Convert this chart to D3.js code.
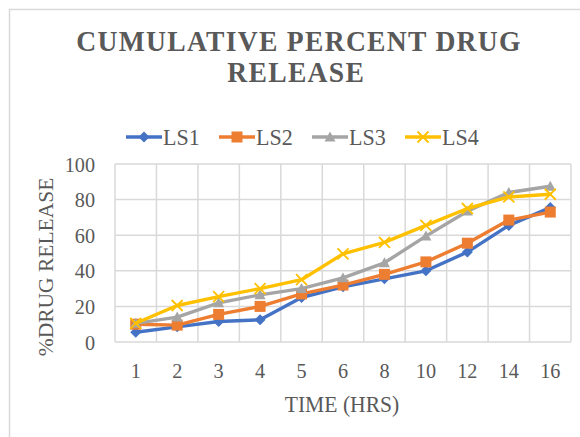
<!DOCTYPE html>
<html>
<head>
<meta charset="utf-8">
<script src="https://cdn.jsdelivr.net/npm/d3@7/dist/d3.min.js"></script>
<style>
  html, body { margin: 0; padding: 0; background: #fff; }
  svg { display: block; }
  text { font-family: "Liberation Serif", "Times New Roman", serif; fill: #595959; }
</style>
</head>
<body>
<svg id="chart" width="580" height="437"></svg>
<script>
// Sampling times (hours) shown as categories on the x axis
const hours = ["1", "2", "3", "4", "5", "6", "8", "10", "12", "14", "16"];

// Cumulative % drug release for each formulation
const ls1 = [5.5, 8.5, 11.5, 12.5, 25, 31, 35.5, 40, 50.5, 65.5, 75.5];
const ls2 = [10, 9.5, 15.5, 20, 27, 32, 38, 45, 55.5, 68.5, 73];
const ls3 = [10.5, 14, 22, 26.5, 30, 36, 44.5, 59.5, 73.5, 84, 87.5];
const ls4 = [10.5, 20.5, 25.5, 30, 35, 49.5, 56, 65.5, 75, 81.5, 83];

const yTicks = [0, 20, 40, 60, 80, 100];

const seriesNames = ["LS1", "LS2", "LS3", "LS4"];
const seriesValues = [ls1, ls2, ls3, ls4];
const seriesColors = ["#4472C4", "#ED7D31", "#A5A5A5", "#FFC000"];
const seriesMarkers = ["diamond", "square", "triangle", "cross"];

// Narrow (condensed) rendering of the serif text
const squeeze = "scale(0.92,1)";

const svg = d3.select("#chart");

// Outer chart frame
svg.append("rect")
  .attr("x", 9.5).attr("y", 9.5)
  .attr("width", 620).attr("height", 480)
  .attr("fill", "#fff")
  .attr("stroke", "#d9d9d9")
  .attr("stroke-width", 1.5);

const plot = { left: 115, right: 571, top: 164, bottom: 342 };

const x = d3.scaleBand().domain(hours).range([plot.left, plot.right]);
const y = d3.scaleLinear().domain([0, 100]).range([plot.bottom, plot.top]);

// Gridlines
const grid = svg.append("g").attr("stroke", "#d9d9d9").attr("stroke-width", 1.5);
grid.selectAll("line.h").data(yTicks).join("line")
  .attr("x1", plot.left).attr("x2", plot.right)
  .attr("y1", d => y(d)).attr("y2", d => y(d));
const vBounds = hours.map(h => x(h)).concat([plot.right]);
grid.selectAll("line.v").data(vBounds).join("line")
  .attr("x1", d => d).attr("x2", d => d)
  .attr("y1", plot.top).attr("y2", plot.bottom);

// Axes
const yAxis = svg.append("g")
  .attr("transform", `translate(${plot.left - 20},0)`)
  .call(d3.axisLeft(y).tickValues(yTicks).tickSize(0).tickPadding(0));
yAxis.select(".domain").remove();
yAxis.selectAll("text")
  .attr("font-size", 22).attr("font-family", "Liberation Serif").attr("fill", "#595959")
  .attr("transform", squeeze);

const xAxis = svg.append("g")
  .attr("transform", `translate(0,${plot.bottom + 20})`)
  .call(d3.axisBottom(x).tickSize(0).tickPadding(0));
xAxis.select(".domain").remove();
xAxis.selectAll("text")
  .attr("font-size", 22).attr("font-family", "Liberation Serif").attr("fill", "#595959")
  .attr("transform", squeeze);

// Axis titles
svg.append("text")
  .attr("transform", `translate(342,411.5) ${squeeze}`)
  .attr("text-anchor", "middle")
  .attr("font-size", 23.5)
  .text("TIME (HRS)");

svg.append("text")
  .attr("transform", "translate(53,267) rotate(-90)")
  .attr("text-anchor", "middle")
  .attr("font-size", 21.5)
  .text("%DRUG RELEASE");

// Title
const title = svg.append("g").attr("transform", `translate(299,0) ${squeeze}`)
  .append("text")
  .attr("text-anchor", "middle")
  .attr("font-weight", "bold")
  .attr("font-size", 30)
  .attr("letter-spacing", 1.4);
title.append("tspan").attr("x", 0).attr("y", 51).text("CUMULATIVE PERCENT DRUG");
title.append("tspan").attr("x", -3).attr("y", 82).text("RELEASE");

// Marker shapes
const markerSize = 11;
function markerPath(kind) {
  const s = markerSize / 2;
  if (kind === "diamond") return `M0,${-s}L${s},0L0,${s}L${-s},0Z`;
  if (kind === "square") return `M${-s},${-s}H${s}V${s}H${-s}Z`;
  if (kind === "triangle") return `M0,${-s}L${s},${s * 0.8}H${-s}Z`;
  return `M${-s},${-s}L${s},${s}M${s},${-s}L${-s},${s}`;
}
function drawMarker(g, kind, color) {
  const p = g.append("path").attr("d", markerPath(kind));
  if (kind === "cross") p.attr("fill", "none").attr("stroke", color).attr("stroke-width", 1.8);
  else p.attr("fill", color);
}

const line = d3.line()
  .x((d, i) => x(hours[i]) + x.bandwidth() / 2)
  .y(d => y(d));

seriesValues.forEach((vals, k) => {
  const g = svg.append("g");
  g.append("path")
    .attr("d", line(vals))
    .attr("fill", "none")
    .attr("stroke", seriesColors[k])
    .attr("stroke-width", 3.4)
    .attr("stroke-linejoin", "round")
    .attr("stroke-linecap", "round");
  vals.forEach((v, i) => {
    const m = g.append("g")
      .attr("transform", `translate(${x(hours[i]) + x.bandwidth() / 2},${y(v)})`);
    drawMarker(m, seriesMarkers[k], seriesColors[k]);
  });
});

// Legend
const legendX = [126, 219, 312, 405];
const legend = svg.append("g");
seriesNames.forEach((name, k) => {
  const g = legend.append("g").attr("transform", `translate(${legendX[k]},137)`);
  g.append("line")
    .attr("x1", 0).attr("x2", 36)
    .attr("stroke", seriesColors[k]).attr("stroke-width", 3.4);
  const m = g.append("g").attr("transform", "translate(18,0)");
  drawMarker(m, seriesMarkers[k], seriesColors[k]);
  g.append("text")
    .attr("transform", `translate(37,7.5) ${squeeze}`)
    .attr("font-size", 24)
    .text(name);
});
</script>
</body>
</html>
